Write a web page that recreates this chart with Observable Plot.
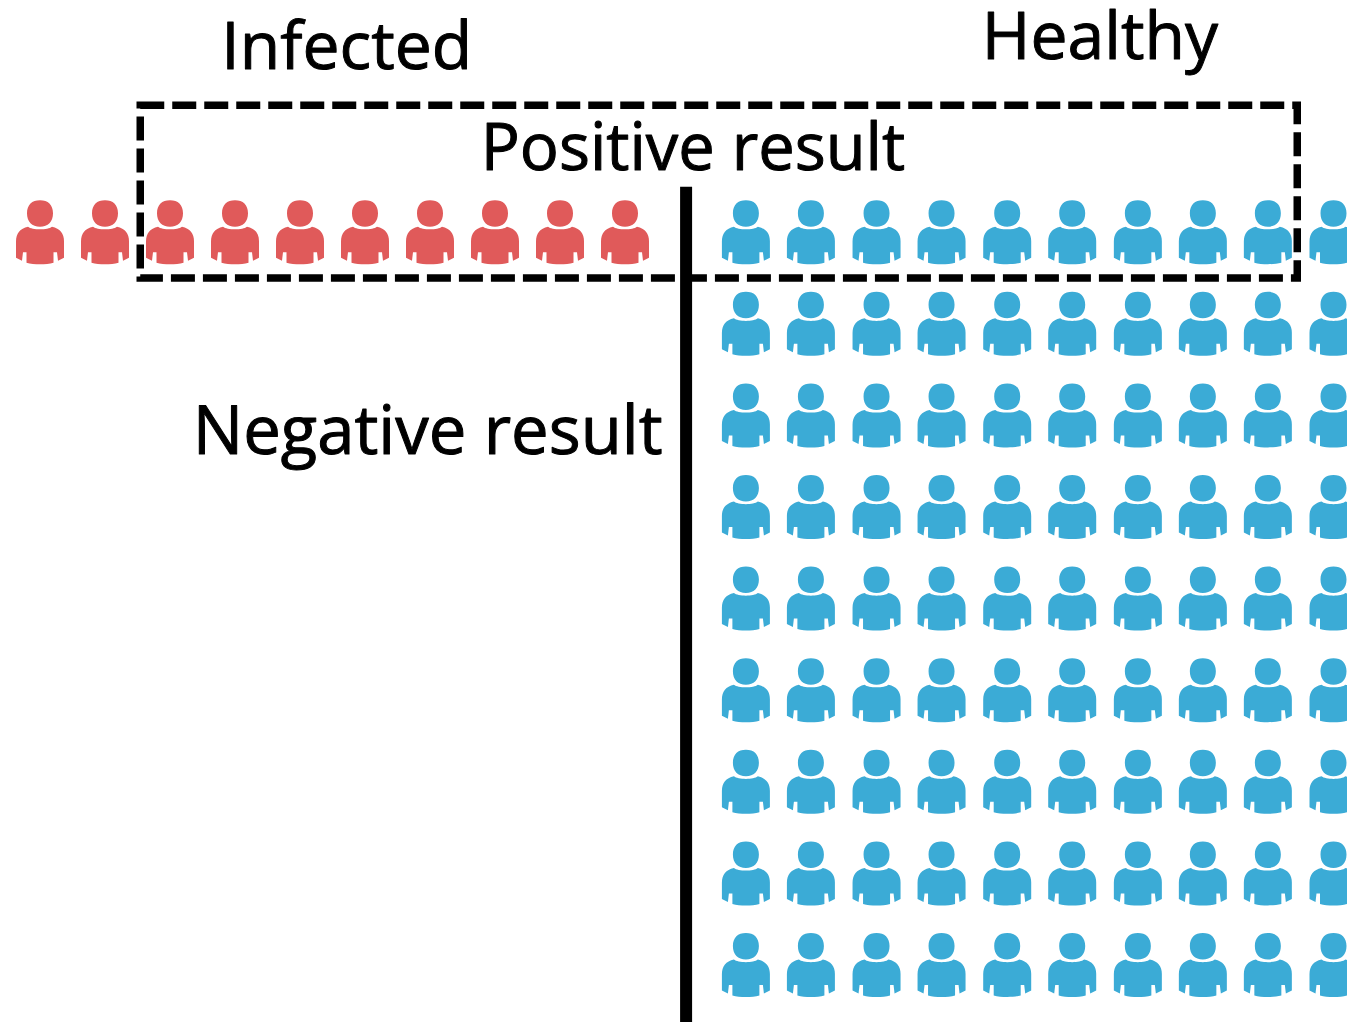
<!DOCTYPE html>
<html>
<head>
<meta charset="utf-8">
<style>html,body{margin:0;padding:0;background:#fff;overflow:hidden}svg{display:block}</style>
<script src="https://cdn.jsdelivr.net/npm/d3@7"></script>
<script src="https://cdn.jsdelivr.net/npm/@observablehq/plot@0.6"></script>
</head>
<body>
<script>
const infectedColumns = [0, 1, 2, 3, 4, 5, 6, 7, 8, 9];
const infectedRows = [0];
const healthyColumns = [10.86, 11.86, 12.87, 13.87, 14.88, 15.88, 16.89, 17.89, 18.89, 19.9];
const healthyRows = [0, 1, 2, 3, 4, 5, 6, 7, 8];
const labels = ["Infected", "Healthy", "Positive result", "Negative result"];
const labelColumns = [2.79, 14.49, 6.78, 2.35];
const labelRows = [-1.78, -1.89, -0.674, 2.425];
const labelSizes = [66, 66, 65, 67];
const infectedColor = "#E05A5A";
const healthyColor = "#3BABD6";

const people = (columns, rows) => rows.flatMap((row) => columns.map((column) => ({column, row})));

const person = {
  draw(c, size) {
    const k = Math.sqrt(size / Math.PI) / 32;
    const P = (x, y) => [x * k, y * k];
    // head
    c.moveTo(...P(-13, -19));
    c.bezierCurveTo(...P(-13, -27.5), ...P(-8, -32), ...P(0, -32));
    c.bezierCurveTo(...P(8, -32), ...P(13, -27.5), ...P(13, -19));
    c.bezierCurveTo(...P(13, -10.5), ...P(8, -5.5), ...P(0, -5.5));
    c.bezierCurveTo(...P(-8, -5.5), ...P(-13, -10.5), ...P(-13, -19));
    c.closePath();
    // body
    c.moveTo(...P(-12, -5.5));
    c.bezierCurveTo(...P(-8, -2), ...P(8, -2), ...P(12, -5.5));
    c.bezierCurveTo(...P(20, -3.5), ...P(24, 1), ...P(24, 9));
    c.lineTo(...P(24, 25.5));
    c.lineTo(...P(18, 28.5));
    c.lineTo(...P(17, 20));
    c.lineTo(...P(13.5, 20));
    c.lineTo(...P(13.5, 30.5));
    c.bezierCurveTo(...P(6, 32.5), ...P(-6, 32.5), ...P(-13.5, 30.5));
    c.lineTo(...P(-13.5, 20));
    c.lineTo(...P(-17, 20));
    c.lineTo(...P(-18, 28.5));
    c.lineTo(...P(-24, 25.5));
    c.lineTo(...P(-24, 9));
    c.bezierCurveTo(...P(-24, 1), ...P(-20, -3.5), ...P(-12, -5.5));
    c.closePath();
  }
};

const textRows = labels.map((text, i) => ({text, column: labelColumns[i], row: labelRows[i], size: labelSizes[i]}));

const chart = Plot.plot({
  width: 1347,
  height: 1022,
  margin: 0,
  style: {background: "#fff"},
  x: {domain: [0, 1], range: [39.5, 104.5], axis: null},
  y: {domain: [0, 1], range: [231.7, 323.3], axis: null},
  marks: [
    Plot.dot(people(infectedColumns, infectedRows), {x: "column", y: "row", r: 32, symbol: person, fill: infectedColor, stroke: "none"}),
    Plot.dot(people(healthyColumns, healthyRows), {x: "column", y: "row", r: 32, symbol: person, fill: healthyColor, stroke: "none"}),
    Plot.rect([{x1: 1.55, x2: 19.35, y1: -1.38, y2: 0.505}], {x1: "x1", x2: "x2", y1: "y1", y2: "y2", fill: "none", stroke: "#000", strokeWidth: 7.5, strokeDasharray: "24 8"}),
    Plot.ruleX([9.94], {y1: -0.49, y2: 8.63, stroke: "#000", strokeWidth: 12}),
    Plot.text(textRows, {x: "column", y: "row", text: "text", textAnchor: "start", lineAnchor: "bottom", fontSize: (d) => d.size, fontFamily: "Open Sans", fill: "#000", stroke: "#000", strokeWidth: 1})
  ]
});
document.body.appendChild(chart);
</script>
</body>
</html>
